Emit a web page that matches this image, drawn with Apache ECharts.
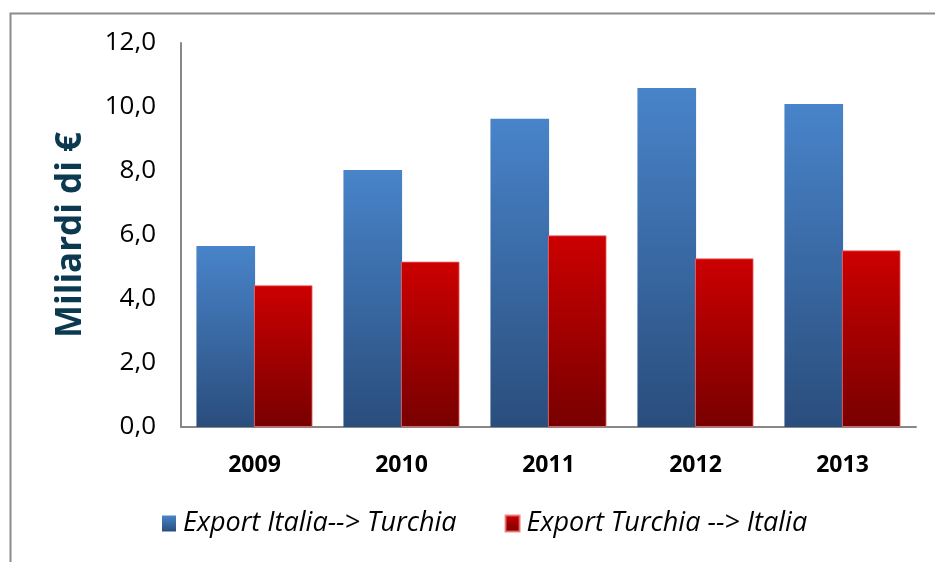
<!DOCTYPE html>
<html><head><meta charset="utf-8">
<script src="https://cdn.jsdelivr.net/npm/echarts@6/dist/echarts.min.js"></script>
<style>html,body{margin:0;padding:0;background:#fff}#c{width:935px;height:562px}</style>
</head><body><div id="c"></div>
<script>
const categories = ['2009', '2010', '2011', '2012', '2013'];
const exportItaliaTurchia = [5.66, 8.03, 9.63, 10.59, 10.09];
const exportTurchiaItalia = [4.43, 5.17, 5.99, 5.27, 5.52];
const seriesNames = ['Export Italia--> Turchia', 'Export Turchia --> Italia'];
const yTicks = { min: 0, max: 12, interval: 2 };

const font = '"Open Sans", "Noto Sans", sans-serif';
const chart = echarts.init(document.getElementById('c'), null, { renderer: 'canvas' });
const blueGrad = new echarts.graphic.LinearGradient(0, 0, 0, 1, [
  { offset: 0, color: '#4884ca' }, { offset: 1, color: '#2a4d7c' }]);
const redGrad = new echarts.graphic.LinearGradient(0, 0, 0, 1, [
  { offset: 0, color: '#cc0000' }, { offset: 1, color: '#780000' }]);
chart.setOption({
  animation: false,
  backgroundColor: '#fff',
  graphic: [{
    type: 'rect', left: 8, top: 11,
    shape: { width: 960, height: 600 },
    style: { fill: 'none', stroke: '#8c8c8c', lineWidth: 2 }
  }],
  grid: { left: 181, top: 43, right: 19, bottom: 135 },
  legend: {
    bottom: 20, left: 157,
    itemWidth: 14, itemHeight: 16, itemGap: 48, icon: 'rect',
    textStyle: { fontFamily: font, fontStyle: 'italic', fontSize: 27, color: '#000', padding: [0, 0, 0, 2] },
    data: seriesNames
  },
  xAxis: {
    type: 'category', data: categories,
    axisLine: { lineStyle: { color: '#888', width: 2 } },
    axisTick: { show: false },
    axisLabel: { fontFamily: font, fontWeight: 'bold', fontSize: 23, color: '#000', margin: 27 }
  },
  yAxis: {
    type: 'value', min: yTicks.min, max: yTicks.max, interval: yTicks.interval,
    name: 'Miliardi di €', nameLocation: 'middle', nameGap: 92, nameRotate: 90,
    nameTextStyle: { fontFamily: font, fontWeight: 'bold', fontSize: 35, color: '#0b3a50' },
    axisLine: { show: true, lineStyle: { color: '#888', width: 2 } },
    axisTick: { show: false },
    splitLine: { show: false },
    axisLabel: { fontFamily: font, fontSize: 26, color: '#000', margin: 25,
      formatter: v => v.toFixed(1).replace('.', ',') }
  },
  series: [
    { name: seriesNames[0], type: 'bar', data: exportItaliaTurchia,
      barGap: '-2%', barCategoryGap: '21%',
      itemStyle: { color: blueGrad } },
    { name: seriesNames[1], type: 'bar', data: exportTurchiaItalia,
      itemStyle: { color: redGrad, borderColor: 'rgba(240,110,110,0.8)', borderWidth: 1 } }
  ]
});
</script></body></html>
